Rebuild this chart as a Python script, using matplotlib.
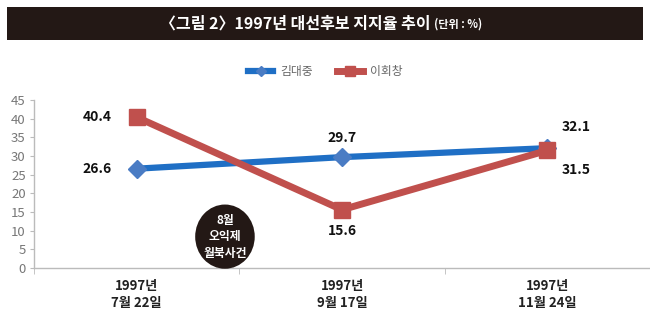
import matplotlib
matplotlib.use("Agg")
import matplotlib.pyplot as plt
from matplotlib.patches import Ellipse, Rectangle

plt.rcParams['font.family'] = ['Noto Sans CJK KR', 'DejaVu Sans']

categories = ["1997년\n7월 22일", "1997년\n9월 17일", "1997년\n11월 24일"]
kim = [26.6, 29.7, 32.1]
lee = [40.4, 15.6, 31.5]
series_names = ["김대중", "이회창"]
yticks = [0, 5, 10, 15, 20, 25, 30, 35, 40, 45]
title_main = "〈그림 2〉1997년 대선후보 지지율 추이"
title_unit = "(단위 : %)"
event_text = "8월\n오익제\n월북사건"

blue_line = "#1f6fc5"
blue_marker = "#4a7cc4"
red = "#c0504d"

fig = plt.figure(figsize=(6.5, 3.23), dpi=100)
fig.patch.set_facecolor("white")

# title bar
fig.patches.append(Rectangle((7/650, 1-40/323), 636/650, 33/323, transform=fig.transFigure,
                             facecolor="#231815", edgecolor="none"))
fig.text(431/650, 1-24/323, title_main, color="white", fontsize=11.5, fontweight="bold",
         ha="right", va="center")
fig.text(434/650, 1-24.5/323, title_unit, color="white", fontsize=8, fontweight="bold",
         ha="left", va="center")

ax = fig.add_axes([34/650, 1-268/323, 616/650, 168/323])
x = list(range(len(categories)))

ax.plot(x, kim, color=blue_line, lw=4.5, marker="D", markersize=9,
        markerfacecolor=blue_marker, markeredgecolor=blue_marker, label=series_names[0],
        clip_on=False, zorder=3)
ax.plot(x, lee, color=red, lw=5, marker="s", markersize=12,
        markerfacecolor=red, markeredgecolor=red, label=series_names[1],
        clip_on=False, zorder=4)

ax.set_xlim(-0.5, 2.5)
ax.set_ylim(0, 45)
ax.set_yticks(yticks)
ax.set_yticklabels([str(v) for v in yticks], fontsize=9.5, color="#777777")
ax.set_xticks(x)
ax.set_xticklabels(categories, fontsize=9.5, fontweight="bold", color="#222222", linespacing=1.3)
ax.set_xticks([-0.5, 0.5, 1.5, 2.5], minor=True)
ax.tick_params(axis="x", which="major", length=0, pad=8)
ax.tick_params(axis="x", which="minor", length=4, color="#bbbbbb")
ax.tick_params(axis="y", length=3, color="#bbbbbb", pad=3)
for s in ["top", "right"]:
    ax.spines[s].set_visible(False)
for s in ["left", "bottom"]:
    ax.spines[s].set_color("#bbbbbb")
    ax.spines[s].set_linewidth(1)

lab_kw = dict(fontsize=10, fontweight="bold", color="#111111")
# data labels
ax.annotate(f"{lee[0]}", (x[0], lee[0]), xytext=(-18, 0), textcoords="offset points", ha="right", va="center", **lab_kw)
ax.annotate(f"{kim[0]}", (x[0], kim[0]), xytext=(-18, 0), textcoords="offset points", ha="right", va="center", **lab_kw)
ax.annotate(f"{kim[1]}", (x[1], kim[1]), xytext=(0, 9), textcoords="offset points", ha="center", va="bottom", **lab_kw)
ax.annotate(f"{lee[1]}", (x[1], lee[1]), xytext=(0, -10), textcoords="offset points", ha="center", va="top", **lab_kw)
ax.annotate(f"{kim[2]}", (x[2], kim[2]), xytext=(10, 10), textcoords="offset points", ha="left", va="bottom", **lab_kw)
ax.annotate(f"{lee[2]}", (x[2], lee[2]), xytext=(10, -9), textcoords="offset points", ha="left", va="top", **lab_kw)

# event ellipse
ell = Ellipse((0.43, 8.4), 0.29, 17.2, facecolor="#231815", edgecolor="none", zorder=5, clip_on=False)
ax.add_patch(ell)
ax.text(0.43, 8.4, event_text, color="white", fontsize=8.5, fontweight="bold", ha="center",
        va="center", linespacing=1.35, zorder=6)

fig.legend(loc="center", bbox_to_anchor=(0.5, 1-72/323), ncol=2, frameon=False,
           fontsize=8.5, labelcolor="#666666", handlelength=2.2, columnspacing=2.0,
           handletextpad=0.6, markerscale=0.6)

fig.savefig("out.png", dpi=100)
